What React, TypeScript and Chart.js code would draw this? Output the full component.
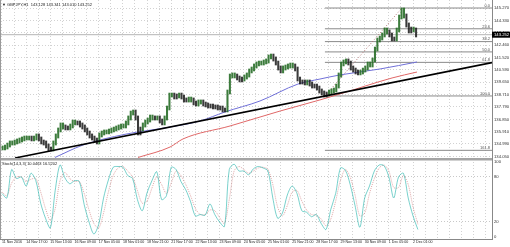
import React, { useEffect, useRef } from 'react';
import { Chart, registerables } from 'chart.js';

Chart.register(...registerables);

// ---------- data ----------
const symbolTitle = '▼ GBPJPY,H1  143.128 143.341 143.010 143.252';
const stochTitle = 'Stoch(14,3,3) 10.0463 16.5202';

const timeLabels = [
  '11 Nov 2016', '14 Nov 17:00', '15 Nov 13:00', '16 Nov 09:00', '17 Nov 05:00', '18 Nov 01:00',
  '18 Nov 21:00', '21 Nov 17:00', '22 Nov 13:00', '23 Nov 09:00', '24 Nov 05:00', '25 Nov 01:00',
  '25 Nov 21:00', '28 Nov 17:00', '29 Nov 13:00', '30 Nov 09:00', '1 Dec 05:00', '2 Dec 01:00',
];
const barsPerLabel = 20;
const barsPerGrid = 10;

const priceTickLabels = [
  '145.270', '144.330', '143.400', '142.460', '141.520', '140.590', '139.650',
  '138.710', '137.790', '136.850', '135.910', '134.990', '134.050',
];
const stochTickValues = [0, 20, 80, 100];

// 2-hour candle ranges (GBPJPY H1, grouped by two bars)
const highs = [
  134.84, 134.91, 135.06, 135.22, 135.22, 135.29, 135.37, 135.44, 135.52, 135.59,
  135.59, 135.59, 135.59, 135.59, 135.75, 135.75, 135.52, 135.29, 135.22, 134.99,
  134.76, 135.22, 135.75, 136.20, 136.58, 136.58, 136.43, 136.35, 136.50, 136.80,
  136.80, 136.73, 136.73, 136.58, 136.43, 136.20, 135.97, 135.75, 135.59, 135.44,
  135.82, 135.97, 136.05, 136.05, 136.12, 136.20, 136.27, 136.35, 136.43, 136.50,
  136.50, 136.73, 137.11, 137.48, 137.56, 137.56, 137.11, 136.27, 136.58, 136.80,
  136.95, 137.18, 137.18, 137.11, 137.11, 137.11, 136.88, 137.11, 137.86, 138.84,
  138.84, 138.84, 138.77, 138.84, 138.84, 138.69, 138.47, 138.54, 138.54, 138.47,
  138.24, 138.32, 138.32, 138.32, 138.16, 138.09, 138.01, 138.01, 137.94, 137.94,
  137.86, 137.86, 137.71, 139.07, 140.28, 140.36, 140.36, 140.28, 140.13, 140.05,
  140.21, 140.36, 140.66, 140.81, 141.04, 141.19, 141.26, 141.26, 141.34, 141.42,
  141.72, 141.79, 141.79, 141.57, 141.26, 140.89, 140.89, 140.96, 141.04, 141.11,
  141.11, 141.04, 140.81, 140.05, 139.83, 139.83, 139.83, 139.83, 139.68, 139.52,
  139.52, 139.37, 139.15, 139.00, 138.92, 139.07, 139.15, 139.22, 139.52, 140.36,
  141.19, 141.34, 141.42, 141.42, 141.26, 140.89, 140.73, 140.58, 140.58, 140.73,
  140.89, 141.19, 141.19, 141.49, 142.32, 143.00, 143.15, 143.38, 143.76, 143.76,
  143.61, 143.38, 143.08, 143.76, 144.74, 145.27, 145.27, 144.82, 144.14, 143.83,
  143.83, 143.76,
];
const lows = [
  134.54, 134.54, 134.61, 134.76, 134.91, 134.91, 134.99, 135.06, 135.14, 135.22,
  135.29, 135.29, 135.22, 135.22, 135.29, 135.22, 134.99, 134.91, 134.69, 134.46,
  134.46, 134.46, 134.91, 135.44, 135.90, 136.12, 136.05, 136.05, 136.05, 136.20,
  136.43, 136.43, 136.27, 136.12, 135.90, 135.67, 135.44, 135.29, 135.14, 134.99,
  134.99, 135.52, 135.67, 135.75, 135.75, 135.82, 135.90, 135.97, 136.05, 136.12,
  136.20, 136.20, 136.43, 136.80, 137.18, 136.80, 135.67, 135.67, 135.97, 136.27,
  136.50, 136.65, 136.80, 136.80, 136.80, 136.58, 136.43, 136.43, 136.80, 137.56,
  138.54, 138.39, 138.39, 138.47, 138.39, 138.16, 138.16, 138.16, 138.16, 137.94,
  137.86, 137.86, 138.01, 137.86, 137.79, 137.71, 137.71, 137.64, 137.64, 137.56,
  137.56, 137.41, 137.41, 137.41, 138.77, 139.98, 139.98, 139.83, 139.68, 139.68,
  139.75, 139.90, 140.05, 140.36, 140.51, 140.73, 140.89, 140.96, 140.96, 141.04,
  141.11, 141.42, 141.26, 140.96, 140.58, 140.36, 140.36, 140.58, 140.66, 140.73,
  140.73, 140.51, 139.75, 139.52, 139.52, 139.45, 139.45, 139.37, 139.22, 139.22,
  139.07, 138.84, 138.69, 138.54, 138.54, 138.62, 138.77, 138.84, 138.92, 139.22,
  140.05, 140.89, 141.04, 140.96, 140.58, 140.43, 140.28, 140.21, 140.21, 140.28,
  140.43, 140.58, 140.81, 140.81, 141.19, 142.02, 142.70, 142.85, 143.08, 143.30,
  143.08, 142.78, 142.78, 142.78, 143.46, 144.44, 144.51, 143.83, 143.38, 143.38,
  143.46, 143.08,
];
const barsPerCandle = 2;

// moving averages (bar index, price)
const blueMaX = [43.8, 67.0, 101.7, 139.0, 163.8, 184.4, 213.4, 244.8, 263.0, 279.6, 312.7, 343.3];
const blueMaY = [133.97, 134.91, 135.72, 136.27, 136.73, 137.41, 138.24, 139.52, 139.90, 140.21, 140.66, 141.19];
const redMaX = [112.5, 139.0, 149.7, 188.6, 230.0, 263.0, 279.6, 322.6, 343.3];
const redMaY = [133.97, 134.76, 135.37, 136.35, 137.48, 138.32, 138.77, 139.98, 140.43];

// trend line
const trendX = [10.8, 405.3];
const trendY = [133.93, 141.14];

// fibonacci retracement
const fibLabels = ['0.0', '23.6', '38.2', '50.0', '61.8', '100.0', '161.8'];
const fibPrices = [145.27, 143.70, 142.73, 141.95, 141.16, 138.62, 134.51];
const fibStartBar = 267.1;
const fibDiagX = [267.1, 330.8];
const fibDiagY = [138.62, 145.27];

const currentPrice = 143.252;
const currentPriceLabel = '143.252';

// stochastic, sampled every 4 bars
const stochStep = 4;
const stochMain = [
  58, 52, 90, 78, 80, 68, 85, 75, 45, 25, 12, 62, 96, 79, 71, 75, 74, 43, 20, 4,
  17, 52, 76, 93, 94, 93, 82, 78, 50, 35, 59, 75, 87, 50, 55, 93, 90, 74, 63, 47,
  28, 30, 29, 44, 30, 20, 14, 90, 97, 88, 88, 83, 91, 94, 92, 88, 52, 25, 32, 56,
  68, 58, 35, 33, 27, 30, 18, 10, 37, 58, 92, 89, 70, 42, 13, 52, 68, 88, 96, 95,
  80, 52, 80, 85, 52, 28, 10,
];
const stochSignal = [
  60, 55, 72, 80, 80, 74, 77, 78, 60, 38, 22, 38, 75, 86, 78, 74, 74, 58, 36, 18,
  12, 32, 60, 82, 92, 94, 88, 80, 62, 45, 48, 65, 80, 70, 58, 72, 88, 82, 70, 55,
  38, 30, 30, 36, 35, 26, 18, 50, 88, 94, 90, 85, 88, 92, 93, 90, 70, 40, 28, 42,
  60, 62, 48, 36, 30, 29, 24, 15, 24, 48, 76, 90, 80, 56, 28, 32, 58, 78, 92, 96,
  88, 66, 66, 82, 70, 40, 17,
];

// ---------- layout constants ----------
const X_MIN = -1.65;
const X_MAX = 405.3;
const PRICE_MIN = 133.93;
const PRICE_MAX = 145.875;
const STOCH_MIN = -2.67;
const STOCH_MAX = 105.33;
const FONT = '"Liberation Sans", Arial, sans-serif';

const overlayPlugin = {
  id: 'mtOverlay',
  afterDraw(chart: any) {
    const { ctx, chartArea, scales } = chart;
    const y = scales.y;
    const ys = scales.ys;
    ctx.save();
    // panel separator
    ctx.fillStyle = '#a4a4a4';
    ctx.fillRect(chartArea.left, ys.top, chartArea.right - chartArea.left, 2.5);
    // left window border
    ctx.strokeStyle = '#9a9a9a';
    ctx.lineWidth = 1;
    ctx.beginPath();
    ctx.moveTo(0.5, 0);
    ctx.lineTo(0.5, chartArea.bottom);
    ctx.stroke();

    // fib labels
    ctx.font = `4px ${FONT}`;
    ctx.fillStyle = '#555';
    ctx.textAlign = 'right';
    ctx.textBaseline = 'bottom';
    fibLabels.forEach((lab, i) => {
      ctx.fillText(lab, chartArea.right - 2, y.getPixelForValue(fibPrices[i]) - 0.3);
    });

    // titles
    ctx.textAlign = 'left';
    ctx.textBaseline = 'middle';
    ctx.fillStyle = '#222';
    ctx.font = `4px ${FONT}`;
    ctx.fillText(symbolTitle, 2, 4.5);
    ctx.fillText(stochTitle, 2, ys.top + 5.5);

    // current price box
    const py = y.getPixelForValue(currentPrice);
    ctx.fillStyle = '#000';
    ctx.fillRect(chartArea.right, py - 3, 18, 6);
    ctx.fillStyle = '#fff';
    ctx.font = `4.2px ${FONT}`;
    ctx.fillText(currentPriceLabel, chartArea.right + 2, py + 0.2);
    ctx.restore();
  },
};

const lineDs = (xs: number[], ys: number[], color: string, width: number, extra: any = {}) => ({
  type: 'line',
  data: xs.map((x, i) => ({ x, y: ys[i] })),
  borderColor: color,
  borderWidth: width,
  pointRadius: 0,
  fill: false,
  tension: 0,
  yAxisID: 'y',
  xAxisID: 'x',
  ...extra,
});

export default function App() {
  const canvasRef = useRef<HTMLCanvasElement | null>(null);

  useEffect(() => {
    const canvas = canvasRef.current;
    if (!canvas) return;

    const upColor = 'rgba(40,110,40,0.9)';
    const downColor = 'rgba(25,25,25,0.85)';
    const candleColors = highs.map((h, i) => {
      if (i === 0) return upColor;
      return h + lows[i] >= highs[i - 1] + lows[i - 1] ? upColor : downColor;
    });

    const datasets: any[] = [
      lineDs(trendX, trendY, '#000', 1.6),
      {
        type: 'bar',
        data: highs.map((h, i) => ({ x: barsPerCandle * i + 0.5, y: [lows[i], h] })),
        backgroundColor: candleColors,
        borderWidth: 0,
        barThickness: 1.4,
        yAxisID: 'y',
        xAxisID: 'x',
      },
      lineDs(blueMaX, blueMaY, '#7070d8', 1, { cubicInterpolationMode: 'monotone' }),
      lineDs(redMaX, redMaY, '#e06868', 1, { cubicInterpolationMode: 'monotone' }),
      {
        type: 'line',
        data: stochMain.map((v, k) => ({ x: k * stochStep, y: v })),
        borderColor: 'rgba(32,178,170,0.6)',
        borderWidth: 1,
        pointRadius: 0,
        tension: 0.3,
        yAxisID: 'ys',
        xAxisID: 'x',
      },
      {
        type: 'line',
        data: stochSignal.map((v, k) => ({ x: k * stochStep, y: v })),
        borderColor: 'rgba(200,100,100,0.55)',
        borderWidth: 1,
        borderDash: [1, 1],
        pointRadius: 0,
        tension: 0.3,
        yAxisID: 'ys',
        xAxisID: 'x',
      },
      lineDs(fibDiagX, fibDiagY, '#b07070', 1, { borderDash: [1, 2] }),
      ...fibPrices.map((p) => lineDs([fibStartBar, X_MAX], [p, p], '#8a8a8a', 1)),
      lineDs([X_MIN, X_MAX], [currentPrice, currentPrice], '#b4b4b4', 1),
    ];

    const chart = new Chart(canvas, {
      type: 'bar',
      data: { datasets },
      options: {
        responsive: false,
        animation: false,
        devicePixelRatio: 1,
        layout: { padding: 0 },
        plugins: {
          legend: { display: false },
          tooltip: { enabled: false },
          title: { display: false },
        },
        scales: {
          x: {
            type: 'linear',
            position: 'bottom',
            min: X_MIN,
            max: X_MAX,
            offset: false,
            afterBuildTicks: (s: any) => {
              const t: any[] = [];
              for (let v = 0; v <= X_MAX; v += barsPerGrid) t.push({ value: v });
              s.ticks = t;
            },
            afterFit: (s: any) => {
              s.height = 8;
              s.paddingLeft = 0;
              s.paddingRight = 0;
            },
            ticks: {
              autoSkip: false,
              maxRotation: 0,
              minRotation: 0,
              align: 'start',
              padding: 1,
              color: '#222',
              font: { family: FONT, size: 3.6 },
              callback: (v: any) => {
                const n = Number(v);
                if (n % barsPerLabel !== 0) return '';
                return timeLabels[n / barsPerLabel] ?? '';
              },
            },
            grid: { color: '#d2d2d2', lineWidth: 1, drawTicks: false, offset: false },
            border: { display: true, color: '#888', dash: [1, 2] },
          },
          y: {
            type: 'linear',
            position: 'right',
            stack: 'panes',
            stackWeight: 158,
            min: PRICE_MIN,
            max: PRICE_MAX,
            afterBuildTicks: (s: any) => {
              s.ticks = priceTickLabels.map((t) => ({ value: parseFloat(t) }));
            },
            afterFit: (s: any) => {
              s.width = 18;
              s.paddingTop = 0;
              s.paddingBottom = 0;
            },
            ticks: {
              autoSkip: false,
              padding: 2,
              color: '#333',
              font: { family: FONT, size: 4.2 },
              callback: (_v: any, i: number) => priceTickLabels[i],
            },
            grid: { color: '#d2d2d2', lineWidth: 1, drawTicks: false },
            border: { display: true, color: '#888', dash: [1, 2] },
          },
          ys: {
            type: 'linear',
            position: 'right',
            stack: 'panes',
            stackWeight: 81,
            min: STOCH_MIN,
            max: STOCH_MAX,
            afterBuildTicks: (s: any) => {
              s.ticks = stochTickValues.map((v) => ({ value: v }));
            },
            afterFit: (s: any) => {
              s.width = 18;
              s.paddingTop = 0;
              s.paddingBottom = 0;
            },
            ticks: {
              autoSkip: false,
              padding: 2,
              color: '#333',
              font: { family: FONT, size: 4.2 },
              callback: (v: any) => String(v),
            },
            grid: {
              color: (c: any) => (c.tick && (c.tick.value === 20 || c.tick.value === 80) ? '#c8c8c8' : 'rgba(0,0,0,0)'),
              lineWidth: 1,
              drawTicks: false,
            },
            border: { display: true, color: '#888', dash: [1, 2] },
          },
        },
      } as any,
      plugins: [overlayPlugin],
    } as any);

    return () => chart.destroy();
  }, []);

  return (
    <div style={{ position: 'fixed', left: 0, top: 0, width: 510, height: 247, background: '#fff' }}>
      <canvas ref={canvasRef} width={510} height={247} style={{ width: 510, height: 247, display: 'block' }} />
    </div>
  );
}
